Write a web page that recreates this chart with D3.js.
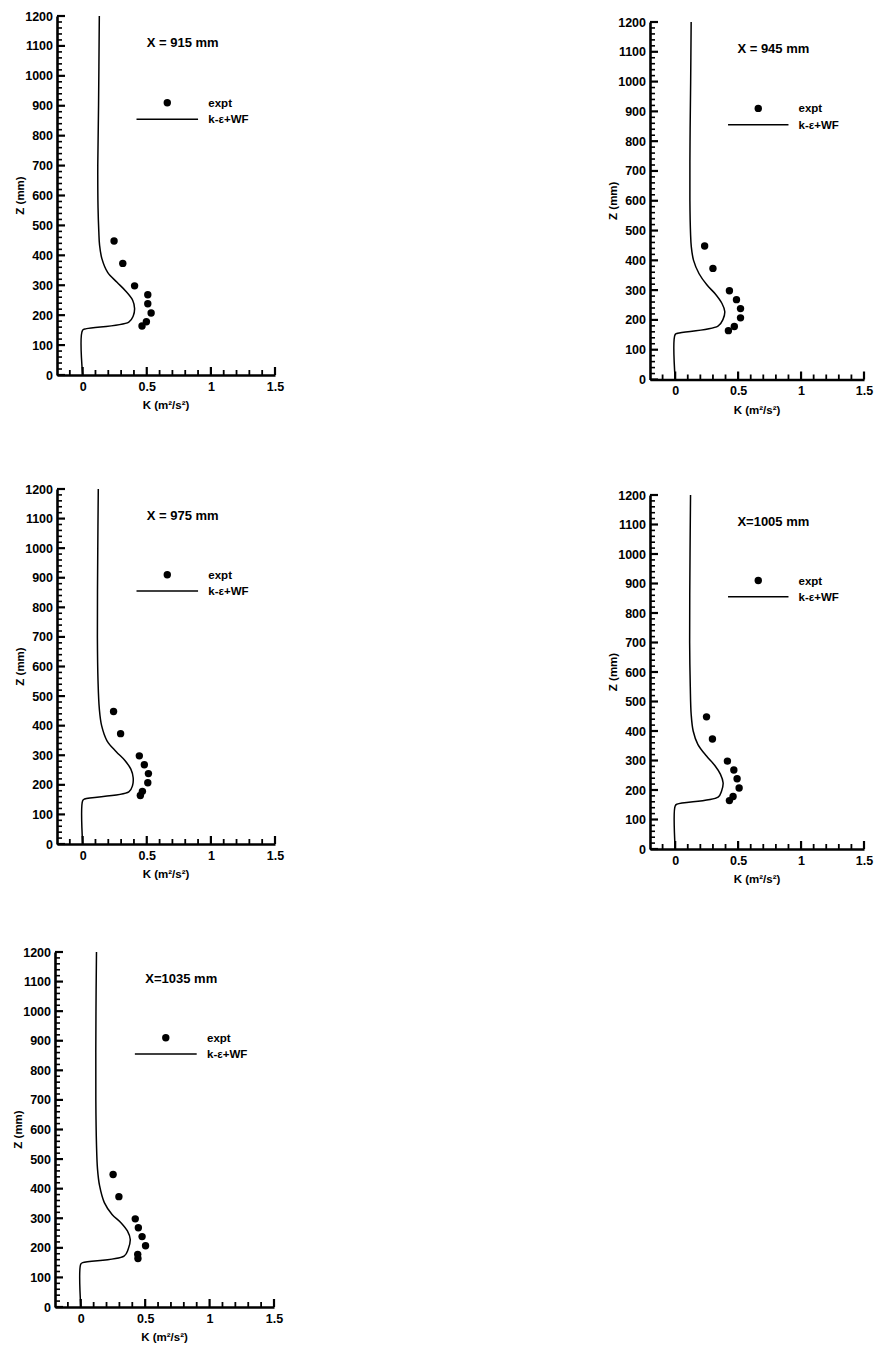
<!DOCTYPE html>
<html>
<head>
<meta charset="utf-8">
<script src="https://cdn.jsdelivr.net/npm/d3@7"></script>
<style>
  body { margin: 0; background: #fff; }
  svg { display: block; }
  text { font-family: "Liberation Sans", Arial, sans-serif; font-weight: bold; fill: #000; }
</style>
</head>
<body>
<svg id="chart" width="876" height="1349"></svg>
<script>
// panel titles (station along the domain)
const panelTitles = ["X = 915 mm", "X = 945 mm", "X = 975 mm", "X=1005 mm", "X=1035 mm"];

// experiment heights (mm), same for every station
const exptZ = [448, 373, 298, 268, 238, 207, 178, 164];

// experiment K (m2/s2), one array per station
const expt915 = [0.245, 0.313, 0.405, 0.508, 0.508, 0.534, 0.497, 0.463];
const expt945 = [0.234, 0.300, 0.431, 0.487, 0.519, 0.519, 0.470, 0.423];
const expt975 = [0.241, 0.296, 0.442, 0.481, 0.513, 0.508, 0.466, 0.450];
const expt1005 = [0.249, 0.296, 0.415, 0.466, 0.492, 0.508, 0.460, 0.431];
const expt1035 = [0.251, 0.296, 0.423, 0.447, 0.476, 0.503, 0.442, 0.444];

// k-eps + wall function profiles, [K, Z] pairs
const model915 = [[0,0],[0,150],[0.03,155],[0.36,177],[0.395,198],[0.405,222],[0.39,250],[0.335,281],[0.268,310],[0.195,343],[0.15,389],[0.132,434],[0.126,480],[0.12,560],[0.118,700],[0.124,900],[0.13,1200]];
const model945 = [[0,0],[0,151],[0.02,155],[0.34,179],[0.38,202],[0.394,228],[0.372,255],[0.319,287],[0.253,317],[0.19,355],[0.146,400],[0.128,446],[0.122,491],[0.117,600],[0.118,800],[0.123,1000],[0.127,1200]];
const model975 = [[0,0],[0,146],[0.015,152],[0.36,176],[0.389,198],[0.394,224],[0.376,253],[0.328,283],[0.262,312],[0.19,349],[0.148,400],[0.13,457],[0.12,550],[0.115,700],[0.118,1000],[0.122,1200]];
const model1005 = [[0,0],[0,146],[0.015,152],[0.341,176],[0.368,196],[0.381,224],[0.36,253],[0.315,283],[0.249,315],[0.18,355],[0.143,400],[0.127,457],[0.12,550],[0.115,700],[0.118,1000],[0.122,1200]];
const model1035 = [[0,0],[0,145],[0.015,150],[0.336,172],[0.368,195],[0.384,229],[0.362,257],[0.31,286],[0.243,313],[0.183,353],[0.146,410],[0.13,466],[0.122,550],[0.117,700],[0.118,1000],[0.122,1200]];

// axis ticks
const kTicks = [0, 0.5, 1, 1.5];
const kMinor = [-0.1, 0.1, 0.2, 0.3, 0.4, 0.6, 0.7, 0.8, 0.9, 1.1, 1.2, 1.3, 1.4];
const zTicks = d3.range(0, 1201, 100);
const zMinor = d3.range(20, 1200, 20).filter(v => v % 100 !== 0);
const legendLabels = ["expt", "k-\u03b5+WF"];

const expts = [expt915, expt945, expt975, expt1005, expt1035];
const models = [model915, model945, model975, model1005, model1035];

// pixel frame of each panel: x range of axis, y range (z=0 -> z=1200)
const frames = [
  { x: [57, 275], y: [375, 16] },
  { x: [650, 864], y: [379.5, 22] },
  { x: [57, 275], y: [844, 489] },
  { x: [650, 864], y: [849, 495] },
  { x: [55, 274], y: [1307, 952] }
];

const svg = d3.select("#chart");

frames.forEach((f, i) => {
  const x = d3.scaleLinear().domain([-0.2, 1.5]).range(f.x);
  const y = d3.scaleLinear().domain([0, 1200]).range(f.y);
  const g = svg.append("g");

  // labels from the axis generators, ticks drawn by hand (inward)
  const xAxis = g.append("g")
    .attr("transform", `translate(0,${f.y[0]})`)
    .call(d3.axisBottom(x).tickValues(kTicks).tickSize(0).tickPadding(7).tickFormat(d3.format("")));
  const yAxis = g.append("g")
    .attr("transform", `translate(${f.x[0]},0)`)
    .call(d3.axisLeft(y).tickValues(zTicks).tickSize(0).tickPadding(4).tickFormat(d3.format("d")));
  [xAxis, yAxis].forEach(a => {
    a.select(".domain").attr("stroke", "#000").attr("stroke-width", 2.6);
    a.selectAll("text").attr("font-size", 12.5).style("font-family", "Liberation Sans, Arial, sans-serif").style("font-weight", "bold");
  });

  const ticks = g.append("g").attr("stroke", "#000");
  ticks.selectAll("line.kt")
    .data(kTicks.map(v => ({ v, len: 8 })).concat(kMinor.map(v => ({ v, len: 5 }))))
    .join("line")
    .attr("class", "kt")
    .attr("x1", d => x(d.v)).attr("x2", d => x(d.v))
    .attr("y1", f.y[0]).attr("y2", d => f.y[0] - d.len)
    .attr("stroke-width", d => d.len > 6 ? 2.2 : 1.8);
  ticks.selectAll("line.zt")
    .data(zTicks.map(v => ({ v, len: 8 })).concat(zMinor.map(v => ({ v, len: 5 }))))
    .join("line")
    .attr("class", "zt")
    .attr("x1", f.x[0]).attr("x2", d => f.x[0] + d.len)
    .attr("y1", d => y(d.v)).attr("y2", d => y(d.v))
    .attr("stroke-width", d => d.len > 6 ? 2.2 : 1.6);

  // axis titles
  g.append("text")
    .attr("x", (f.x[0] + f.x[1]) / 2)
    .attr("y", f.y[0] + 30)
    .attr("dy", "0.35em")
    .attr("text-anchor", "middle")
    .attr("font-size", 11.5)
    .text("K (m\u00b2/s\u00b2)");
  g.append("text")
    .attr("transform", `translate(${f.x[0] - 37},${(f.y[0] + f.y[1]) / 2}) rotate(-90)`)
    .attr("dy", "0.35em")
    .attr("text-anchor", "middle")
    .attr("font-size", 11.5)
    .text("Z (mm)");

  // title
  g.append("text")
    .attr("x", x(0.78))
    .attr("y", y(1110))
    .attr("dy", "0.35em")
    .attr("text-anchor", "middle")
    .attr("font-size", 13)
    .text(panelTitles[i]);

  // model curve
  g.append("path")
    .datum(models[i])
    .attr("fill", "none")
    .attr("stroke", "#000")
    .attr("stroke-width", 1.5)
    .attr("d", d3.line().x(d => x(d[0])).y(d => y(d[1])).curve(d3.curveCatmullRom.alpha(0.5)));

  // experiment dots
  g.selectAll("circle.expt")
    .data(expts[i].map((k, j) => ({ k, z: exptZ[j] })))
    .join("circle")
    .attr("class", "expt")
    .attr("cx", d => x(d.k))
    .attr("cy", d => y(d.z))
    .attr("r", 3.7)
    .attr("fill", "#000");

  // legend
  g.append("circle")
    .attr("cx", x(0.66))
    .attr("cy", y(910))
    .attr("r", 3.7)
    .attr("fill", "#000");
  g.append("line")
    .attr("x1", x(0.42)).attr("x2", x(0.9))
    .attr("y1", y(855)).attr("y2", y(855))
    .attr("stroke", "#000").attr("stroke-width", 1.5);
  legendLabels.forEach((t, j) => {
    g.append("text")
      .attr("x", x(0.98))
      .attr("y", y(j === 0 ? 910 : 855))
      .attr("dy", "0.35em")
      .attr("font-size", 11.5)
      .text(t);
  });
});
</script>
</body>
</html>
